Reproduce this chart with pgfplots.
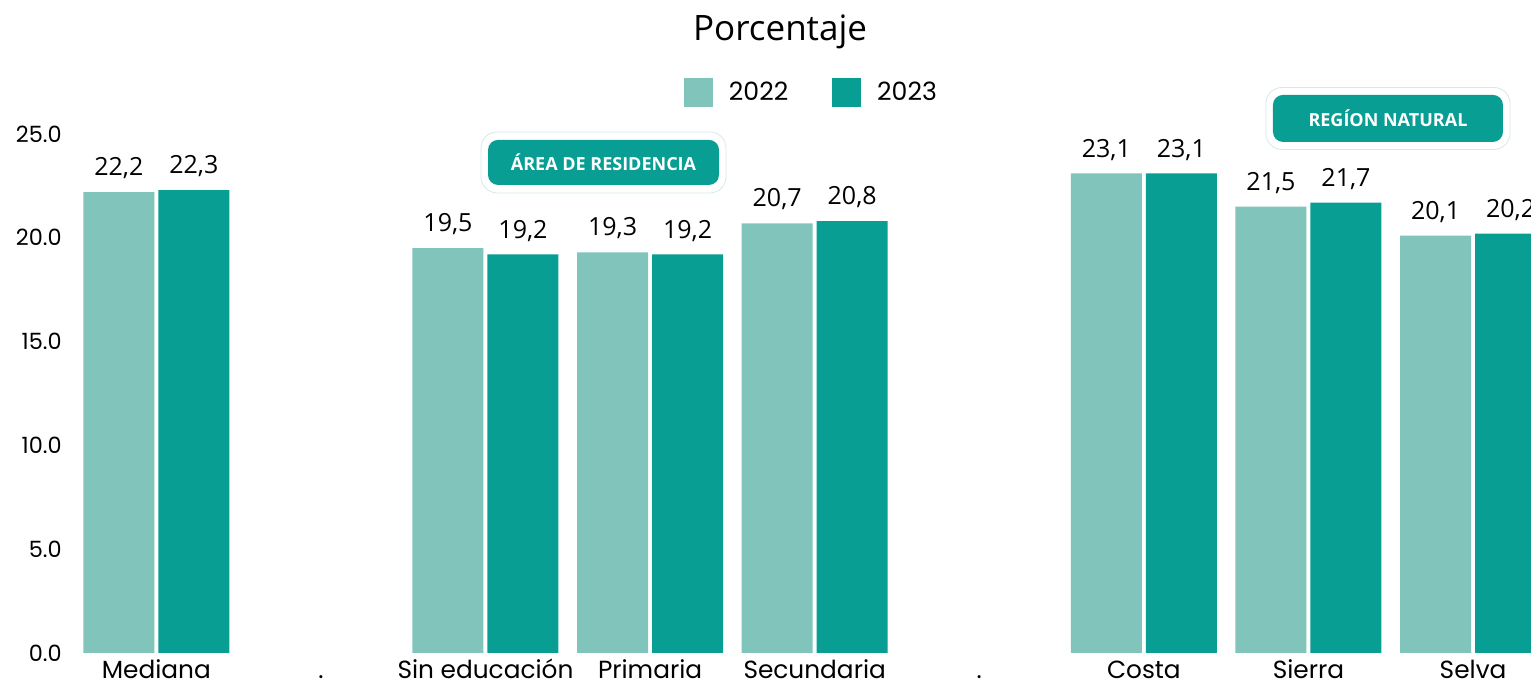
\documentclass[border=0pt]{standalone}
\usepackage{fontspec}
\setmainfont{Poppins}
\newfontfamily\os{Open Sans}
\usepackage{pgfplots}
\usepackage{pgfplotstable}
\pgfplotsset{compat=1.18}
\definecolor{cA}{HTML}{80C4BC}
\definecolor{cB}{HTML}{089E94}
\definecolor{bord}{HTML}{D6E9E7}
\pgfplotstableread{
x y
0 22.2
2 19.5
3 19.3
4 20.7
6 23.1
7 21.5
8 20.1
}\dataA
\pgfplotstableread{
x y
0 22.3
2 19.2
3 19.2
4 20.8
6 23.1
7 21.7
8 20.2
}\dataB
\begin{document}
\begin{tikzpicture}
\begin{axis}[
  x=82.3pt, y=10.38pt,
  xmin=-0.5, xmax=8.352, ymin=0, ymax=25,
  clip=false,
  ybar=2pt, bar width=35.5pt,
  axis line style={draw=none},
  major tick length=0pt,
  xtick={0,...,8},
  xticklabels={Mediana,.,Sin educación,Primaria,Secundaria,.,Costa,Sierra,Selva},
  xticklabel style={font=\fontsize{12.4}{14}\selectfont, anchor=base, inner sep=0pt, text depth=0pt, yshift=-13pt},
  ytick={0,5,...,25},
  yticklabel style={font=\fontsize{11.2}{13}\selectfont, inner sep=0pt, xshift=-6pt,
    /pgf/number format/.cd, fixed, fixed zerofill, precision=1},
  /pgf/number format/assume math mode=true,
  nodes near coords={\pgfmathprintnumber[fixed,fixed zerofill,precision=1,use comma]{\pgfplotspointmeta}},
  every node near coord/.append style={font=\os\fontsize{12.5}{14}\selectfont, inner sep=0pt, text depth=0pt, yshift=8pt},
  legend columns=2,
  legend image code/.code={\fill[#1] (0pt,-7.25pt) rectangle (14.5pt,7.25pt);},
  legend style={draw=none, fill=none, at={(0.5068,1.080)}, anchor=center,
    font=\fontsize{12.6}{15}\selectfont,
    /tikz/every odd column/.append style={column sep=6pt},
    /tikz/every even column/.append style={column sep=20pt}},
]
\addplot[draw=none, fill=cA] table[x=x,y=y] {\dataA};
\addplot[draw=none, fill=cB] table[x=x,y=y] {\dataB};
\legend{2022,2023}
\node[font=\os\fontsize{17.5}{20}\selectfont, anchor=base] at (rel axis cs:0.4846,1.1811) {Porcentaje};
\node[draw=bord, fill=white, rounded corners=8pt, minimum width=122.5pt, minimum height=30.5pt] at (axis cs:2.717,23.63) {};
\node[fill=cB, text=white, rounded corners=5pt, minimum width=115.5pt, minimum height=22.5pt, font=\os\bfseries\fontsize{9}{11}\selectfont] at (axis cs:2.717,23.63) {ÁREA DE RESIDENCIA};
\node[draw=bord, fill=white, rounded corners=8pt, minimum width=122pt, minimum height=31pt] at (axis cs:7.483,25.75) {};
\node[fill=cB, text=white, rounded corners=5pt, minimum width=115pt, minimum height=23.5pt, font=\os\bfseries\fontsize{9}{11}\selectfont] at (axis cs:7.483,25.75) {REGÍON NATURAL};
\coordinate (bbl) at (axis cs:-0.9496,-1.638);
\coordinate (btr) at (axis cs:8.352,31.455);
\end{axis}
\pgfresetboundingbox
\useasboundingbox (bbl) rectangle (btr);
\end{tikzpicture}
\end{document}
